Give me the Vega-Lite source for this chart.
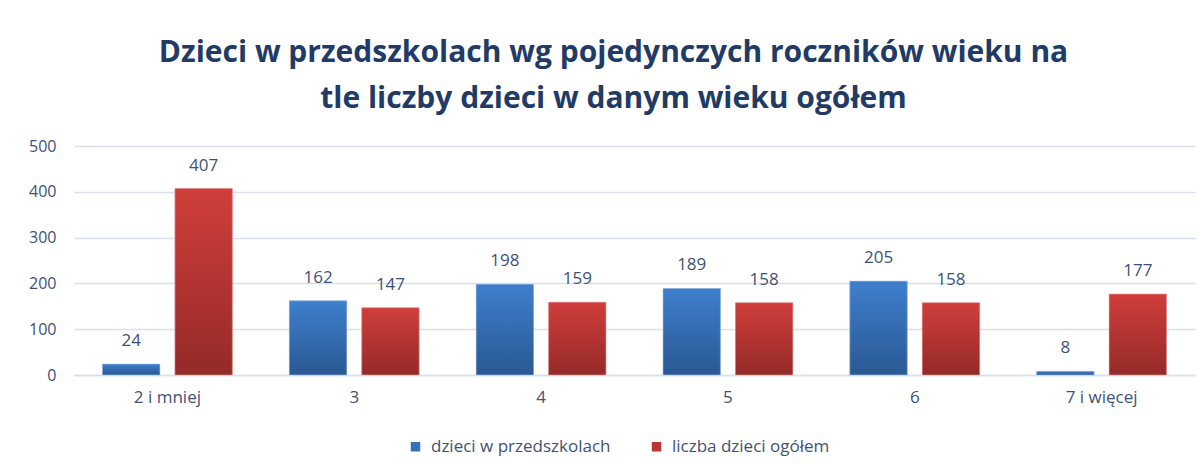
{
  "$schema": "https://vega.github.io/schema/vega-lite/v6.json",
  "width": 1121,
  "height": 229,
  "autosize": {"type": "none"},
  "padding": {"left": 74, "top": 146, "right": 8, "bottom": 95},
  "background": "#ffffff",
  "title": {
    "text": ["Dzieci w przedszkolach  wg pojedynczych  roczników  wieku na", "tle liczby dzieci w danym wieku ogółem"],
    "font": "Open Sans",
    "fontSize": 30,
    "fontWeight": "bold",
    "color": "#1F3B66",
    "lineHeight": 46,
    "anchor": "middle",
    "dx": -21,
    "offset": 24
  },
  "data": {
    "values": [
      {"grupa": "2 i mniej", "seria": "dzieci w przedszkolach", "wartosc": 24},
      {"grupa": "2 i mniej", "seria": "liczba dzieci ogółem", "wartosc": 407},
      {"grupa": "3", "seria": "dzieci w przedszkolach", "wartosc": 162},
      {"grupa": "3", "seria": "liczba dzieci ogółem", "wartosc": 147},
      {"grupa": "4", "seria": "dzieci w przedszkolach", "wartosc": 198},
      {"grupa": "4", "seria": "liczba dzieci ogółem", "wartosc": 159},
      {"grupa": "5", "seria": "dzieci w przedszkolach", "wartosc": 189},
      {"grupa": "5", "seria": "liczba dzieci ogółem", "wartosc": 158},
      {"grupa": "6", "seria": "dzieci w przedszkolach", "wartosc": 205},
      {"grupa": "6", "seria": "liczba dzieci ogółem", "wartosc": 158},
      {"grupa": "7 i więcej", "seria": "dzieci w przedszkolach", "wartosc": 8},
      {"grupa": "7 i więcej", "seria": "liczba dzieci ogółem", "wartosc": 177}
    ]
  },
  "encoding": {
    "x": {
      "field": "grupa",
      "type": "nominal",
      "sort": null,
      "scale": {"paddingInner": 0.305, "paddingOuter": 0.1525},
      "axis": {
        "title": null,
        "labelAngle": 0,
        "labelFont": "Open Sans",
        "labelFontSize": 17,
        "labelColor": "#3F5275",
        "labelPadding": 14,
        "ticks": false,
        "domainColor": "#D6E0EE",
        "domainWidth": 1.5
      }
    },
    "xOffset": {
      "field": "seria",
      "type": "nominal",
      "scale": {"domain": ["dzieci w przedszkolach", "liczba dzieci ogółem"], "paddingInner": 0.207}
    },
    "y": {
      "field": "wartosc",
      "type": "quantitative",
      "scale": {"domain": [0, 500], "nice": false},
      "axis": {
        "title": null,
        "values": [0, 100, 200, 300, 400, 500],
        "labelFont": "Open Sans",
        "labelFontSize": 16,
        "labelColor": "#3F5275",
        "labelPadding": 18,
        "ticks": false,
        "domain": false,
        "gridColor": "#D6E0EE",
        "gridWidth": 1.5
      }
    }
  },
  "layer": [
    {
      "mark": {"type": "bar"},
      "encoding": {
        "color": {
          "field": "seria",
          "type": "nominal",
          "scale": {"domain": ["dzieci w przedszkolach", "liczba dzieci ogółem"], "range": ["#3570B8", "#BA3532"]},
          "legend": {
            "title": null,
            "orient": "none",
            "direction": "horizontal",
            "legendX": 333,
            "legendY": 292,
            "symbolType": "square",
            "symbolSize": 90,
            "symbolStrokeWidth": 0,
            "labelFont": "Open Sans",
            "labelFontSize": 17,
            "labelLimit": 400,
            "labelColor": "#3F5275",
            "columnPadding": 37,
            "labelOffset": 7
          }
        }
      }
    },
    {
      "transform": [{"filter": "datum.seria === 'dzieci w przedszkolach'"}],
      "mark": {
        "type": "bar",
        "stroke": "#A9C3E6",
        "strokeWidth": 0.6,
        "color": {
          "gradient": "linear", "x1": 0, "y1": 0, "x2": 0, "y2": 1,
          "stops": [{"offset": 0, "color": "#3E7FCD"}, {"offset": 1, "color": "#2A5893"}]
        }
      }
    },
    {
      "transform": [{"filter": "datum.seria === 'liczba dzieci ogółem'"}],
      "mark": {
        "type": "bar",
        "stroke": "#E6A9A8",
        "strokeWidth": 0.6,
        "color": {
          "gradient": "linear", "x1": 0, "y1": 0, "x2": 0, "y2": 1,
          "stops": [{"offset": 0, "color": "#D03E3B"}, {"offset": 1, "color": "#942A28"}]
        }
      }
    },
    {
      "mark": {
        "type": "text",
        "baseline": "alphabetic",
        "dy": -18,
        "font": "Open Sans",
        "fontSize": 17,
        "color": "#3F5275"
      },
      "encoding": {
        "text": {"field": "wartosc", "type": "quantitative"}
      }
    }
  ],
  "config": {
    "view": {"stroke": null}
  }
}
